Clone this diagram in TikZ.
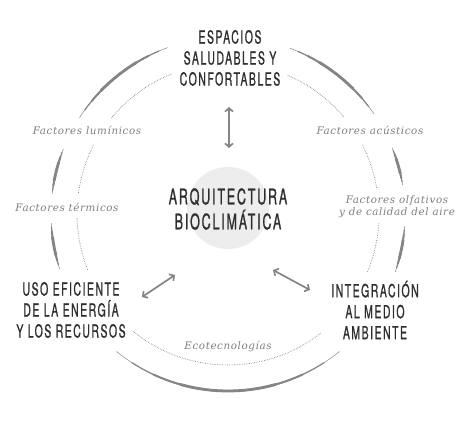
\documentclass[tikz,border=0pt]{standalone}
\usepackage{fontspec}
\usetikzlibrary{arrows.meta}

\newfontfamily\capsfont[FakeStretch=0.58,LetterSpace=8.5,FakeBold=0.9]{TeX Gyre Heros}
\newfontfamily\labfont[LetterSpace=6]{DejaVu Serif}

\definecolor{arcgray}{HTML}{858585}
\definecolor{dotgray}{HTML}{8C8C8C}
\definecolor{textdark}{HTML}{2E2E2E}
\definecolor{labgray}{HTML}{7E7E7E}
\definecolor{hubgray}{HTML}{EDEDED}

\tikzset{
  arcline/.style={draw=arcgray, line cap=round},
  dotline/.style={draw=dotgray, line width=0.8pt, dash pattern=on 0.6pt off 1.1pt},
  goal/.style={text=textdark, align=center, inner sep=0pt,
    font=\capsfont\fontsize{18}{21}\selectfont},
  hubtext/.style={text=textdark, align=center, inner sep=0pt,
    font=\capsfont\fontsize{21.5}{25}\selectfont},
  factor/.style={text=labgray, align=center, inner sep=0pt,
    font=\labfont\itshape\fontsize{10.3}{12}\selectfont},
  link/.style={draw=arcgray, line width=1.7pt, {Straight Barb[length=3.5pt,width=8pt]}-{Straight Barb[length=3.5pt,width=8pt]}},
}

% tapered arc around (c): start angle, end angle, radius
\newcommand\taperarc[3]{%
  \foreach \w/\f in {0.5/0, 1.2/0.08, 2/0.18, 2.8/0.3}{
    \pgfmathsetmacro\da{(#2-#1)*\f}
    \draw[arcline, line width=\w pt] ([shift={(#1+\da:#3)}]c)
      arc[start angle=#1+\da, end angle=#2-\da, radius=#3];
  }}
\newcommand\dotarc[3]{%
  \draw[dotline] ([shift={(#1:#3)}]c) arc[start angle=#1, end angle=#2, radius=#3];}

\begin{document}
\begin{tikzpicture}[x=1pt,y=1pt]
\useasboundingbox (0,0) rectangle (472,421);
\coordinate (c) at (228,207);

% hub
\fill[hubgray] (228,213) circle (41);
\node[hubtext] (hub) at (228,212) {ARQUITECTURA\\BIOCLIM\'ATICA};

% outer ring
\taperarc{110}{147}{177}
\taperarc{34.5}{69.5}{177}
\taperarc{158.5}{173.5}{177}
\taperarc{183}{198}{177}
\taperarc{9.5}{22}{177}
\taperarc{-19}{-4}{177}
\taperarc{231}{309}{177}

% inner dotted ring
\dotarc{112}{141}{151}
\dotarc{40}{67}{151}
\dotarc{153}{172}{151}
\dotarc{181.5}{202}{151}
\dotarc{10}{27}{151}
\dotarc{-22.5}{-3.5}{151}
\dotarc{231}{308}{151}

% goals
\node[goal] (esp) at (230,363) {ESPACIOS\\SALUDABLES Y\\CONFORTABLES};
\node[goal] (uso) at (71,111) {USO EFICIENTE\\DE LA ENERG\'IA\\Y LOS RECURSOS};
\node[goal] (int) at (375,111) {INTEGRACI\'ON\\AL MEDIO\\AMBIENTE};

% factors
\node[factor] (lum) at (87,291) {Factores lum\'inicos};
\node[factor] (acu) at (370,291) {Factores ac\'usticos};
\node[factor] (ter) at (67,214) {Factores t\'ermicos};
\node[factor] (olf) at (397,214) {Factores olfativos\\y de calidad del aire};
\node[factor] (eco) at (228,74) {Ecotecnolog\'ias};

% arrows
\coordinate (a1) at (229,314);
\coordinate (a2) at (229,273);
\coordinate (b1) at (142,124);
\coordinate (b2) at (175,146);
\coordinate (d1) at (273,151);
\coordinate (d2) at (310,131);
\draw[link] (a1) -- (a2);
\draw[link] (b1) -- (b2);
\draw[link] (d1) -- (d2);
\end{tikzpicture}
\end{document}
